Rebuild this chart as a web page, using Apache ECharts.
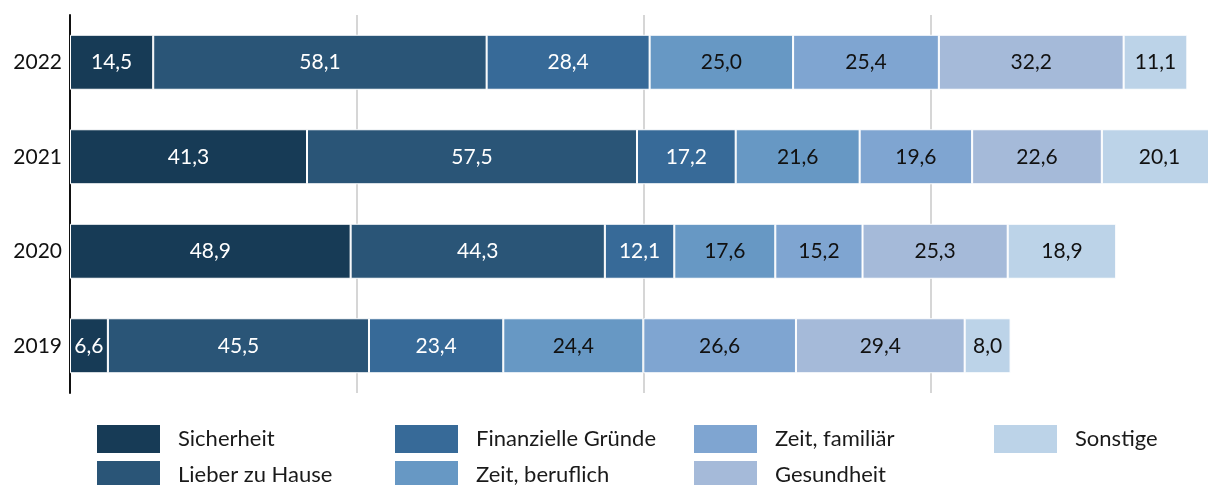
<!DOCTYPE html>
<html>
<head>
<meta charset="utf-8">
<script src="https://cdn.jsdelivr.net/npm/echarts@6/dist/echarts.min.js"></script>
<style>
  html, body { margin: 0; padding: 0; background: #fff; }
  #chart { width: 1208px; height: 485px; }
</style>
</head>
<body>
<div id="chart"></div>
<script>
  // Jahre (von unten nach oben)
  var years = ['2019', '2020', '2021', '2022'];

  var seriesNames = ['Sicherheit', 'Lieber zu Hause', 'Finanzielle Gründe', 'Zeit, beruflich',
    'Zeit, familiär', 'Gesundheit', 'Sonstige'];

  var sicherheit = [6.6, 48.9, 41.3, 14.5];
  var lieberZuHause = [45.5, 44.3, 57.5, 58.1];
  var finanzielleGruende = [23.4, 12.1, 17.2, 28.4];
  var zeitBeruflich = [24.4, 17.6, 21.6, 25.0];
  var zeitFamiliaer = [26.6, 15.2, 19.6, 25.4];
  var gesundheit = [29.4, 25.3, 22.6, 32.2];
  var sonstige = [8.0, 18.9, 20.1, 11.1];

  var values = [sicherheit, lieberZuHause, finanzielleGruende, zeitBeruflich, zeitFamiliaer, gesundheit, sonstige];

  var colors = ['#173b56', '#2a5577', '#376a98', '#6798c4', '#7fa5d1', '#a5bad9', '#bcd3e8'];
  var labelColors = ['#fff', '#fff', '#fff', '#111', '#111', '#111', '#111'];

  var font = 'Lato, "Open Sans", sans-serif';

  var chart = echarts.init(document.getElementById('chart'));

  var series = seriesNames.map(function (name, i) {
    return {
      name: name,
      type: 'bar',
      stack: 'total',
      barWidth: 55,
      clip: false,
      data: values[i],
      itemStyle: { color: colors[i], borderColor: '#fff', borderWidth: 1 },
      label: {
        show: true,
        position: 'inside',
        color: labelColors[i],
        fontSize: 21,
        fontFamily: font,
        formatter: function (p) { return p.value.toFixed(1).replace('.', ','); }
      },
      emphasis: { disabled: true }
    };
  });

  // Legende in vier Spalten, spaltenweise gefüllt
  var legendCols = [[0, 1], [2, 3], [4, 5], [6]];
  var legendLeft = [95, 393, 692, 992];
  var legends = legendCols.map(function (col, k) {
    return {
      orient: 'vertical',
      left: legendLeft[k],
      top: 423,
      width: 290,
      height: 80,
      padding: 0,
      itemWidth: 65,
      itemHeight: 30,
      itemGap: 4,
      icon: 'rect',
      selectedMode: false,
      data: col.map(function (i) { return seriesNames[i]; }),
      textStyle: { fontSize: 22, fontFamily: font, color: '#1a1a1a', padding: [0, 0, 0, 12] }
    };
  });

  var option = {
    animation: false,
    legend: legends,
    // Achse läuft bis ca. 200, rechter Rand ist angeschnitten
    grid: { left: 70, top: 15, right: 0, height: 378, containLabel: false },
    xAxis: {
      type: 'value',
      min: 0,
      max: 198.3,
      interval: 50,
      axisLabel: { show: false },
      axisLine: { show: false },
      axisTick: { show: false },
      splitLine: { showMaxLine: false, lineStyle: { color: '#d6d6d6', width: 2 } }
    },
    yAxis: {
      type: 'category',
      data: years,
      axisLine: { show: true, lineStyle: { color: '#111', width: 2 } },
      axisTick: { show: false },
      axisLabel: { fontSize: 21, fontFamily: font, color: '#111', margin: 8 }
    },
    series: series
  };

  chart.setOption(option);
</script>
</body>
</html>
